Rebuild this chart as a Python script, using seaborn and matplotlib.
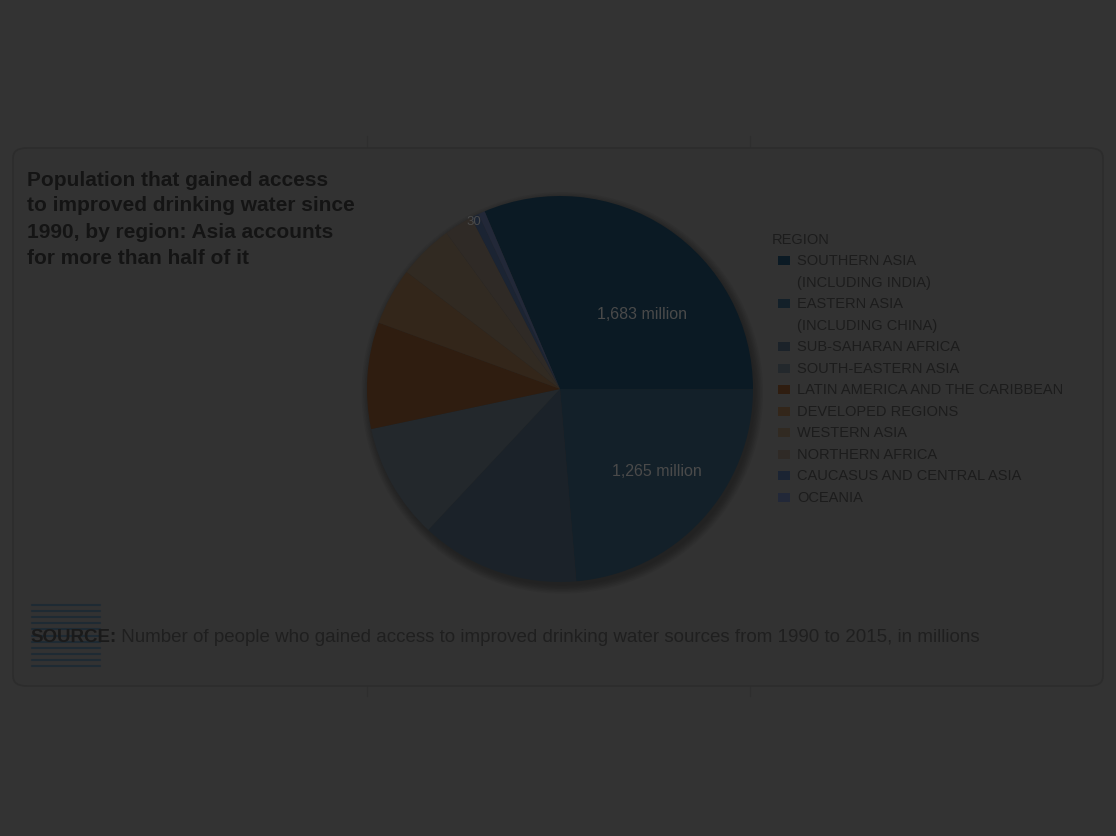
import matplotlib
matplotlib.use("Agg")
import matplotlib.pyplot as plt
import seaborn as sns
from matplotlib.patches import FancyBboxPatch, Rectangle, Circle
from matplotlib.lines import Line2D

# =========================
# DADES
# =========================
regions = [
    "SOUTHERN ASIA\n(INCLUDING INDIA)",
    "EASTERN ASIA\n(INCLUDING CHINA)",
    "SUB-SAHARAN AFRICA",
    "SOUTH-EASTERN ASIA",
    "LATIN AMERICA AND THE CARIBBEAN",
    "DEVELOPED REGIONS",
    "WESTERN ASIA",
    "NORTHERN AFRICA",
    "CAUCASUS AND CENTRAL ASIA",
    "OCEANIA",
]
values = [1683, 1265, 713, 520, 477, 257, 247, 129, 35, 30]
slice_colors = ["#0b1a24", "#132029", "#1b2229", "#23282c", "#2f1d10",
                "#33261a", "#312a22", "#2f2a26", "#1b2433", "#222838"]
pie_labels = ["1,683 million", "1,265 million"]
small_label = "30"

title_lines = [
    "Population that gained access",
    "to improved drinking water since",
    "1990, by region: Asia accounts",
    "for more than half of it",
]
legend_title = "REGION"
source_bold = "SOURCE:"
source_text = (" Number of people who gained access to improved drinking water "
               "sources from 1990 to 2015, in millions")

# =========================
# ESTIL
# =========================
sns.set_theme(style="dark")
plt.rcParams['font.family'] = ['Liberation Sans', 'DejaVu Sans']

W, H = 1116, 837
fig = plt.figure(figsize=(W / 100, H / 100), dpi=100)
fig.patch.set_facecolor("#333333")


def fx(x):
    return x / W


def fy(y):
    return 1 - y / H


# línies verticals tènues i targeta
for gx in [367, 750]:
    fig.add_artist(Line2D([fx(gx), fx(gx)], [fy(137), fy(697)], color="#2e2e2e", lw=1, zorder=0))
card = FancyBboxPatch((fx(13), fy(687)), fx(1090), (687 - 149) / H,
                      boxstyle="round,pad=0,rounding_size=0.012",
                      transform=fig.transFigure, facecolor="#323232",
                      edgecolor="#2c2c2c", lw=1.2, zorder=1)
fig.add_artist(card)

# =========================
# PASTÍS
# =========================
cx, cy, r = 560, 390, 193
lim = 1.12
side = 2 * r * lim
ax = fig.add_axes([fx(cx - side / 2), fy(cy + side / 2), side / W, side / H])
ax.set_facecolor("none")
ax.set_zorder(2)

# ombra suau
for i in range(6):
    ax.add_patch(Circle((0.012, -0.02), 1.0 + 0.008 * i, color="black",
                        alpha=0.05, lw=0, zorder=0))

ax.pie(values, colors=slice_colors, startangle=113, counterclock=False,
       wedgeprops=dict(linewidth=0, antialiased=True))
ax.set_xlim(-lim, lim)
ax.set_ylim(-lim, lim)
ax.set_aspect("equal")
ax.axis("off")

ax.text(0.425, 0.39, pie_labels[0], ha="center", va="center", fontsize=11.5, color="#4a4a4a")
ax.text(0.503, -0.42, pie_labels[1], ha="center", va="center", fontsize=11.5, color="#4a4a4a")
ax.text(-0.446, 0.87, small_label, ha="center", va="center", fontsize=9.5, color="#4a4a4a")

# =========================
# TÍTOL
# =========================
for i, line in enumerate(title_lines):
    fig.text(fx(27), fy(180 + 26 * i), line, ha="left", va="center",
             fontsize=15, fontweight="bold", color="#141414", zorder=3)

# =========================
# LLEGENDA
# =========================
pitch = 21.5
fig.text(fx(772), fy(240), legend_title, ha="left", va="center",
         fontsize=10.5, color="#1c1c1c", zorder=3)
row = 1
for name, col in zip(regions, slice_colors):
    y0 = 240 + pitch * row
    fig.add_artist(Rectangle((fx(778), fy(y0 + 4.5)), 12 / W, 9 / H,
                             transform=fig.transFigure, facecolor=col, lw=0, zorder=3))
    for k, part in enumerate(name.split("\n")):
        fig.text(fx(797), fy(y0 + pitch * k), part, ha="left", va="center",
                 fontsize=10.5, color="#1c1c1c", zorder=3)
    row += len(name.split("\n"))

# =========================
# PEU (FONT)
# =========================
for k in range(11):
    yy = 606 + 6.1 * k
    fig.add_artist(Line2D([fx(32), fx(100)], [fy(yy), fy(yy)], color="#1e2a33", lw=1.5, zorder=3))

t1 = fig.text(fx(30), fy(638), source_bold, ha="left", va="center", fontsize=13.5,
              fontweight="bold", color="#1a1a1a", zorder=4)
renderer = fig.canvas.get_renderer()
bb = t1.get_window_extent(renderer=renderer)
fig.text(bb.x1 / W, fy(638), source_text, ha="left", va="center", fontsize=13.5,
         color="#1f1f1f", zorder=4)

plt.savefig("out.png", dpi=100, facecolor=fig.get_facecolor())
plt.close()
